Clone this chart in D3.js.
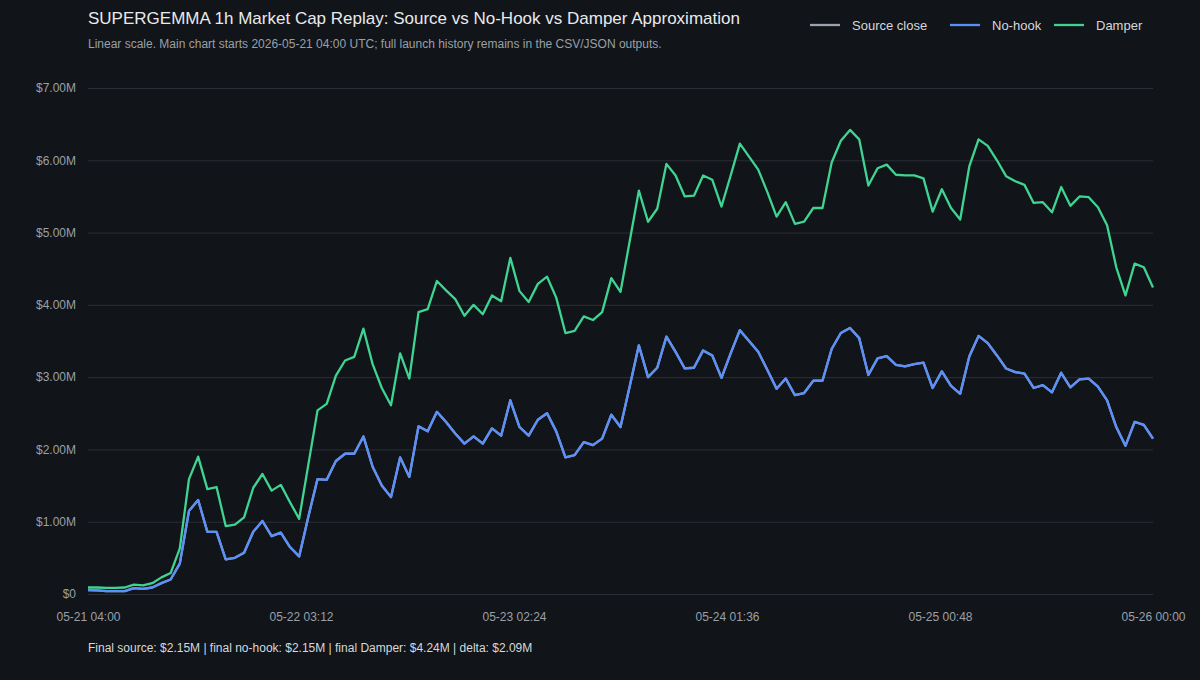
<!DOCTYPE html>
<html>
<head>
<meta charset="utf-8">
<script src="https://cdn.jsdelivr.net/npm/d3@7"></script>
<style>
  html, body { margin: 0; padding: 0; background: #111418; }
  svg { display: block; }
</style>
</head>
<body>
<svg id="chart"></svg>
<script>
// hourly closes, in $M, 05-21 04:00 UTC -> 05-26 00:00 UTC
const noHook = [
  0.055, 0.05, 0.04, 0.04, 0.04, 0.08, 0.07, 0.09, 0.15, 0.20,
  0.42, 1.15, 1.30, 0.86, 0.86, 0.48, 0.50, 0.57, 0.86, 1.01,
  0.80, 0.85, 0.65, 0.52, 1.07, 1.59, 1.58, 1.84, 1.94, 1.94,
  2.18, 1.76, 1.50, 1.34, 1.89, 1.62, 2.32, 2.25, 2.52, 2.38,
  2.22, 2.08, 2.18, 2.08, 2.29, 2.19, 2.68, 2.31, 2.19, 2.41,
  2.50, 2.25, 1.89, 1.92, 2.10, 2.06, 2.15, 2.48, 2.31, 2.87,
  3.44, 3.00, 3.13, 3.56, 3.35, 3.12, 3.13, 3.37, 3.30, 2.99,
  3.33, 3.65, 3.50, 3.35, 3.10, 2.84, 2.98, 2.75, 2.78, 2.95,
  2.95, 3.39, 3.61, 3.68, 3.54, 3.03, 3.26, 3.29, 3.17, 3.15,
  3.18, 3.20, 2.85, 3.08, 2.88, 2.77, 3.29, 3.57, 3.47, 3.30,
  3.12, 3.07, 3.05, 2.85, 2.89, 2.79, 3.06, 2.86, 2.97, 2.98,
  2.87, 2.68, 2.31, 2.05, 2.38, 2.34, 2.15
]

// source close sits exactly under the no-hook line
const sourceClose = noHook.slice()

const damper = [
  0.09, 0.09, 0.085, 0.085, 0.09, 0.13, 0.12, 0.15, 0.23, 0.29,
  0.63, 1.59, 1.90, 1.45, 1.48, 0.94, 0.96, 1.06, 1.47, 1.66,
  1.43, 1.51, 1.27, 1.04, 1.79, 2.54, 2.63, 3.02, 3.23, 3.28,
  3.67, 3.18, 2.85, 2.61, 3.33, 2.98, 3.90, 3.94, 4.33, 4.20,
  4.08, 3.85, 4.00, 3.87, 4.13, 4.05, 4.65, 4.19, 4.04, 4.29,
  4.39, 4.10, 3.61, 3.64, 3.84, 3.79, 3.90, 4.37, 4.18, 4.88,
  5.58, 5.15, 5.33, 5.95, 5.79, 5.50, 5.51, 5.79, 5.73, 5.36,
  5.79, 6.23, 6.05, 5.87, 5.56, 5.22, 5.42, 5.12, 5.15, 5.34,
  5.34, 5.97, 6.27, 6.42, 6.29, 5.65, 5.89, 5.94, 5.80, 5.79,
  5.79, 5.75, 5.29, 5.60, 5.34, 5.18, 5.92, 6.29, 6.20, 6.00,
  5.78, 5.71, 5.66, 5.41, 5.42, 5.28, 5.63, 5.37, 5.50, 5.49,
  5.35, 5.10, 4.52, 4.13, 4.57, 4.52, 4.24
]

const yTicks = [0, 1, 2, 3, 4, 5, 6, 7]
const xTickLabels = ["05-21 04:00", "05-22 03:12", "05-23 02:24", "05-24 01:36", "05-25 00:48", "05-26 00:00"]

const startTime = Date.UTC(2026, 4, 21, 4, 0)
const endTime = Date.UTC(2026, 4, 26, 0, 0)

const width = 1200
const height = 680
const margin = { top: 88, right: 47, bottom: 86, left: 88 }
const font = "'Liberation Sans', Arial, Helvetica, sans-serif"

const svg = d3.select('#chart')
  .attr('width', width)
  .attr('height', height)
  .style('background', '#111418')
  .style('font-family', font)

const x = d3.scaleUtc()
  .domain([new Date(startTime), new Date(endTime)])
  .range([margin.left, width - margin.right])

const y = d3.scaleLinear()
  .domain([0, 7])
  .range([height - margin.bottom, margin.top])

const hour = 3600 * 1000
const toPoints = arr => arr.map((v, i) => ({ t: new Date(startTime + i * hour), v }))

// grid + y labels
const yAxis = svg.append('g')
  .attr('transform', `translate(${margin.left},0)`)
  .call(d3.axisLeft(y)
    .tickValues(yTicks)
    .tickSize(-(width - margin.left - margin.right))
    .tickPadding(12)
    .tickFormat(d => d === 0 ? '$0' : `$${d.toFixed(2)}M`))
yAxis.select('.domain').remove()
yAxis.selectAll('.tick line').attr('stroke', '#2a2f36').attr('stroke-width', 1)
yAxis.selectAll('.tick text')
  .attr('fill', '#9aa0a8')
  .style('font-size', '12px')
  .style('font-family', font)

// x labels
const xTickDates = xTickLabels.map((_, k) => new Date(startTime + k * (endTime - startTime) / (xTickLabels.length - 1)))
const xAxis = svg.append('g')
  .attr('transform', `translate(0,${height - margin.bottom})`)
  .call(d3.axisBottom(x)
    .tickValues(xTickDates)
    .tickSize(0)
    .tickPadding(18)
    .tickFormat((d, i) => xTickLabels[i]))
xAxis.select('.domain').remove()
xAxis.selectAll('.tick text')
  .attr('fill', '#9aa0a8')
  .style('font-size', '12px')
  .style('font-family', font)

const line = d3.line()
  .x(d => x(d.t))
  .y(d => y(d.v))

const series = [
  { name: 'Source close', color: '#9ca3af', data: sourceClose },
  { name: 'No-hook', color: '#5b8ff9', data: noHook },
  { name: 'Damper', color: '#3fd492', data: damper }
]

svg.append('g')
  .selectAll('path')
  .data(series)
  .enter()
  .append('path')
  .attr('d', d => line(toPoints(d.data)))
  .attr('fill', 'none')
  .attr('stroke', d => d.color)
  .attr('stroke-width', 2.3)
  .attr('stroke-linejoin', 'round')

// title block
svg.append('text')
  .attr('x', 88)
  .attr('y', 24)
  .attr('fill', '#e8eaed')
  .style('font-size', '17px')
  .text('SUPERGEMMA 1h Market Cap Replay: Source vs No-Hook vs Damper Approximation')

svg.append('text')
  .attr('x', 88)
  .attr('y', 48)
  .attr('fill', '#9aa0a8')
  .style('font-size', '12px')
  .text('Linear scale. Main chart starts 2026-05-21 04:00 UTC; full launch history remains in the CSV/JSON outputs.')

// legend
const legendX = [810, 950, 1054]
const legend = svg.append('g')
  .selectAll('g')
  .data(series)
  .enter()
  .append('g')
  .attr('transform', (d, i) => `translate(${legendX[i]},25)`)
legend.append('line')
  .attr('x1', 0).attr('x2', 30)
  .attr('y1', 0).attr('y2', 0)
  .attr('stroke', d => d.color)
  .attr('stroke-width', 2.3)
legend.append('text')
  .attr('x', 42)
  .attr('y', 5)
  .attr('fill', '#d5d8dc')
  .style('font-size', '13px')
  .text(d => d.name)

// footer summary
const last = a => a[a.length - 1]
svg.append('text')
  .attr('x', 88)
  .attr('y', 652)
  .attr('fill', '#d5d8dc')
  .style('font-size', '12px')
  .text(`Final source: $${last(sourceClose).toFixed(2)}M | final no-hook: $${last(noHook).toFixed(2)}M | final Damper: $${last(damper).toFixed(2)}M | delta: $${(last(damper) - last(noHook)).toFixed(2)}M`)
</script>
</body>
</html>
